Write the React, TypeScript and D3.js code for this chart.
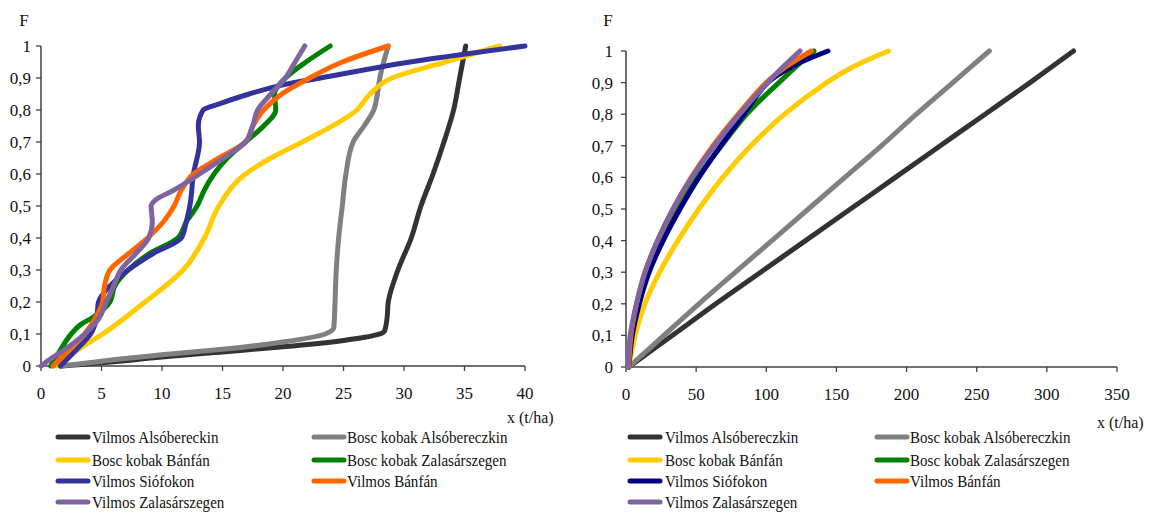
import React from 'react';
import * as d3 from 'd3';

type Pt = [number, number];

const seriesNames = [
  'Vilmos Alsóbereckin',
  'Bosc kobak Alsóbereczkin',
  'Bosc kobak Bánfán',
  'Bosc kobak Zalasárszegen',
  'Vilmos Siófokon',
  'Vilmos Bánfán',
  'Vilmos Zalasárszegen',
];
const seriesNamesRight = [
  'Vilmos Alsóbereczkin',
  'Bosc kobak Alsóbereczkin',
  'Bosc kobak Bánfán',
  'Bosc kobak Zalasárszegen',
  'Vilmos Siófokon',
  'Vilmos Bánfán',
  'Vilmos Zalasárszegen',
];
const colorsLeft = ['#333333', '#808080', '#FFCC00', '#008000', '#333399', '#FF6600', '#8064A2'];
const colorsRight = ['#333333', '#808080', '#FFCC00', '#008000', '#000080', '#FF6600', '#8064A2'];

const yTicks = [0, 0.1, 0.2, 0.3, 0.4, 0.5, 0.6, 0.7, 0.8, 0.9, 1];
const yTickLabels = ['0', '0,1', '0,2', '0,3', '0,4', '0,5', '0,6', '0,7', '0,8', '0,9', '1'];
const leftXTicks = [0, 5, 10, 15, 20, 25, 30, 35, 40];
const rightXTicks = [0, 50, 100, 150, 200, 250, 300, 350];

// Left chart: empirical distributions [x, F]
const leftVilmosAlso: Pt[] = [
  [1.7, 0], [5, 0.01], [10, 0.028], [15, 0.044], [20, 0.06], [25, 0.08], [27.8, 0.098], [28.4, 0.11],
  [28.6, 0.15], [28.7, 0.2], [29.5, 0.3], [30.6, 0.4], [31.4, 0.5], [32.4, 0.6], [33.3, 0.7],
  [34.1, 0.8], [34.6, 0.9], [35.1, 1],
];
const leftBoscAlso: Pt[] = [
  [1.7, 0], [5, 0.015], [10, 0.035], [15, 0.052], [20, 0.075], [23.5, 0.1], [24.2, 0.12],
  [24.3, 0.2], [24.4, 0.3], [24.6, 0.4], [24.9, 0.5], [25.2, 0.6], [25.8, 0.7], [26.7, 0.75],
  [27.5, 0.8], [27.8, 0.85], [28.0, 0.9], [28.7, 1],
];
const leftBoscBanfa: Pt[] = [
  [1.3, 0], [3, 0.05], [5.1, 0.1], [8.6, 0.2], [11.75, 0.3], [13.5, 0.4], [14.7, 0.5], [16.9, 0.6],
  [19, 0.65], [21.6, 0.7], [26.1, 0.8], [27.2, 0.85], [29, 0.9], [33.4, 0.95], [37.9, 1],
];
const leftBoscZala: Pt[] = [
  [0.8, 0], [1.6, 0.05], [2.5, 0.1], [3.3, 0.13], [4.2, 0.15], [5.7, 0.2], [6.1, 0.25], [7.2, 0.3],
  [8.9, 0.35], [11.3, 0.4], [12, 0.45], [12.9, 0.5], [13.5, 0.55], [14.3, 0.6], [15.4, 0.65],
  [16.9, 0.7], [18.4, 0.75], [19.4, 0.8], [19.3, 0.85], [20.2, 0.9], [21.9, 0.95], [23.9, 1],
];
const leftVilmosSio: Pt[] = [
  [1.6, 0], [2.9, 0.05], [4.1, 0.1], [4.6, 0.15], [4.75, 0.2], [5.7, 0.25], [7.2, 0.3], [9.2, 0.35],
  [11.6, 0.4], [12.0, 0.45], [12.3, 0.5], [12.6, 0.6], [13.1, 0.7], [13.0, 0.75], [13.4, 0.8],
  [14.8, 0.82], [17.2, 0.85], [20.2, 0.88], [23.1, 0.9], [30.5, 0.95], [40, 1],
];
const leftVilmosBanfa: Pt[] = [
  [1.0, 0], [2.3, 0.05], [3.6, 0.1], [4.5, 0.15], [5.1, 0.2], [5.25, 0.25], [5.7, 0.3], [7.2, 0.35],
  [8.8, 0.4], [10.1, 0.45], [11.0, 0.5], [11.6, 0.55], [12.6, 0.6], [14.7, 0.65], [16.9, 0.7],
  [17.5, 0.75], [18.4, 0.8], [19.9, 0.85], [22.2, 0.9], [24.9, 0.95], [28.7, 1],
];
const leftVilmosZala: Pt[] = [
  [0, 0], [0.7, 0.02], [1.9, 0.05], [3.6, 0.1], [4.8, 0.15], [5.4, 0.2], [6.0, 0.25], [6.6, 0.3],
  [7.8, 0.35], [8.9, 0.4], [9.2, 0.45], [9.1, 0.5], [9.5, 0.52], [11.0, 0.55], [13.1, 0.6],
  [15.1, 0.65], [16.9, 0.7], [17.5, 0.75], [17.9, 0.8], [19.0, 0.85], [20.2, 0.9], [21.0, 0.95], [21.8, 1],
];

// Right chart: fitted distributions [x, F]
const rightVilmosAlso: Pt[] = [
  [2, 0], [33, 0.1], [64, 0.2], [96, 0.3], [128, 0.4], [160, 0.5], [192, 0.6], [224, 0.7],
  [256, 0.8], [288, 0.9], [319, 1],
];
const rightBoscAlso: Pt[] = [
  [2, 0], [27, 0.1], [52, 0.2], [78, 0.3], [104, 0.4], [130, 0.5], [156, 0.6], [182, 0.7],
  [207, 0.8], [233, 0.9], [259, 1],
];
const rightBoscBanfa: Pt[] = [
  [2, 0], [6.5, 0.1], [13.5, 0.2], [24, 0.3], [37, 0.4], [52, 0.5], [69, 0.6], [89, 0.7],
  [113, 0.8], [143, 0.9], [162, 0.95], [187, 1],
];
const rightBoscZala: Pt[] = [
  [2, 0], [4, 0.1], [8.5, 0.2], [15, 0.3], [24.5, 0.4], [36.5, 0.5], [51, 0.6], [68, 0.7],
  [86, 0.8], [97, 0.85], [109, 0.9], [121, 0.95], [134, 1],
];
const rightVilmosSio: Pt[] = [
  [2, 0], [4.5, 0.1], [9.5, 0.2], [16.5, 0.3], [26.5, 0.4], [38.5, 0.5], [52, 0.6], [67.5, 0.7],
  [84, 0.8], [101, 0.9], [118, 0.95], [144, 1],
];
const rightVilmosBanfa: Pt[] = [
  [2, 0], [3.5, 0.1], [7.5, 0.2], [13.5, 0.3], [22.5, 0.4], [33.5, 0.5], [46.5, 0.6], [62, 0.7],
  [80, 0.8], [100, 0.9], [114, 0.95], [132, 1],
];
const rightVilmosZala: Pt[] = [
  [1.5, 0], [3, 0.1], [7.5, 0.2], [13.5, 0.3], [22.5, 0.4], [33.5, 0.5], [47, 0.6], [63, 0.7],
  [81, 0.8], [101, 0.9], [112, 0.95], [124, 1],
];

const leftSeries = [leftVilmosAlso, leftBoscAlso, leftBoscBanfa, leftBoscZala, leftVilmosSio, leftVilmosBanfa, leftVilmosZala];
const rightSeries = [rightVilmosAlso, rightBoscAlso, rightBoscBanfa, rightBoscZala, rightVilmosSio, rightVilmosBanfa, rightVilmosZala];

const FONT = "'Times New Roman', 'Liberation Serif', 'DejaVu Serif', serif";

type PanelProps = {
  series: Pt[][];
  colors: string[];
  names: string[];
  xDomain: [number, number];
  xRange: [number, number];
  yRange: [number, number];
  xTicks: number[];
  yLabelGap: number;
  fX: number;
  xLabelPos: [number, number];
  legendX: [number, number];
  legendTextX: [number, number];
  smooth: boolean;
};

function Panel(p: PanelProps) {
  const x = d3.scaleLinear().domain(p.xDomain).range(p.xRange);
  const y = d3.scaleLinear().domain([0, 1]).range(p.yRange);
  const line = d3
    .line<Pt>()
    .x((d) => x(d[0]))
    .y((d) => y(d[1]))
    .curve(p.smooth ? d3.curveCatmullRom.alpha(0.5) : d3.curveMonotoneY);
  const axisColor = '#404040';
  const legendRows = [437, 460, 481, 502];
  const txt = { fontFamily: FONT, fill: '#111' };
  return (
    <g>
      {/* axes */}
      <line x1={p.xRange[0]} x2={p.xRange[0]} y1={p.yRange[0]} y2={p.yRange[1]} stroke={axisColor} strokeWidth={1.5} />
      <line x1={p.xRange[0]} x2={p.xRange[1]} y1={p.yRange[0]} y2={p.yRange[0]} stroke={axisColor} strokeWidth={1.5} />
      {yTicks.map((t, i) => (
        <g key={'y' + i}>
          <line x1={p.xRange[0] - 5} x2={p.xRange[0]} y1={y(t)} y2={y(t)} stroke={axisColor} strokeWidth={1.3} />
          <text x={p.xRange[0] - p.yLabelGap} y={y(t)} dy="0.35em" textAnchor="end" fontSize={17} style={txt}>
            {yTickLabels[i]}
          </text>
        </g>
      ))}
      {p.xTicks.map((t, i) => (
        <g key={'x' + i}>
          <line x1={x(t)} x2={x(t)} y1={p.yRange[0]} y2={p.yRange[0] + 5} stroke={axisColor} strokeWidth={1.3} />
          <text x={x(t)} y={p.yRange[0] + 27} dy="0.35em" textAnchor="middle" fontSize={17} style={txt}>
            {t}
          </text>
        </g>
      ))}
      <text x={p.fX} y={20} dy="0.35em" textAnchor="middle" fontSize={17} style={txt}>F</text>
      <text x={p.xLabelPos[0]} y={p.xLabelPos[1]} dy="0.35em" textAnchor="start" fontSize={16} style={txt}>x (t/ha)</text>
      {/* series */}
      {p.series.map((s, i) => (
        <path
          key={'s' + i}
          d={line(s) || ''}
          fill="none"
          stroke={p.colors[i]}
          strokeWidth={5}
          strokeLinejoin="round"
          strokeLinecap="round"
        />
      ))}
      {/* legend */}
      {p.names.map((n, i) => {
        const col = i % 2;
        const row = Math.floor(i / 2);
        const lx = p.legendX[col];
        const ty = legendRows[row];
        return (
          <g key={'l' + i}>
            <line x1={lx} x2={lx + 30} y1={ty} y2={ty} stroke={p.colors[i]} strokeWidth={5} strokeLinecap="round" />
            <text
              transform={`translate(${p.legendTextX[col]},${ty}) scale(0.86,1)`}
              dy="0.35em"
              fontSize={17.5}
              style={txt}
            >
              {n}
            </text>
          </g>
        );
      })}
    </g>
  );
}

export default function App() {
  return (
    <svg
      width={1154}
      height={514}
      style={{ position: 'absolute', left: 0, top: 0, background: '#fff' }}
    >
      <rect width={1154} height={514} fill="#fff" />
      <Panel
        series={leftSeries}
        colors={colorsLeft}
        names={seriesNames}
        xDomain={[0, 40]}
        xRange={[41, 525]}
        yRange={[366, 46]}
        xTicks={leftXTicks}
        yLabelGap={10}
        fX={24}
        xLabelPos={[507, 417]}
        legendX={[58, 314]}
        legendTextX={[92, 347]}
        smooth={false}
      />
      <Panel
        series={rightSeries}
        colors={colorsRight}
        names={seriesNamesRight}
        xDomain={[0, 350]}
        xRange={[626, 1117]}
        yRange={[367, 51]}
        xTicks={rightXTicks}
        yLabelGap={13}
        fX={608}
        xLabelPos={[1097, 422]}
        legendX={[630, 877]}
        legendTextX={[665, 910]}
        smooth={true}
      />
    </svg>
  );
}
